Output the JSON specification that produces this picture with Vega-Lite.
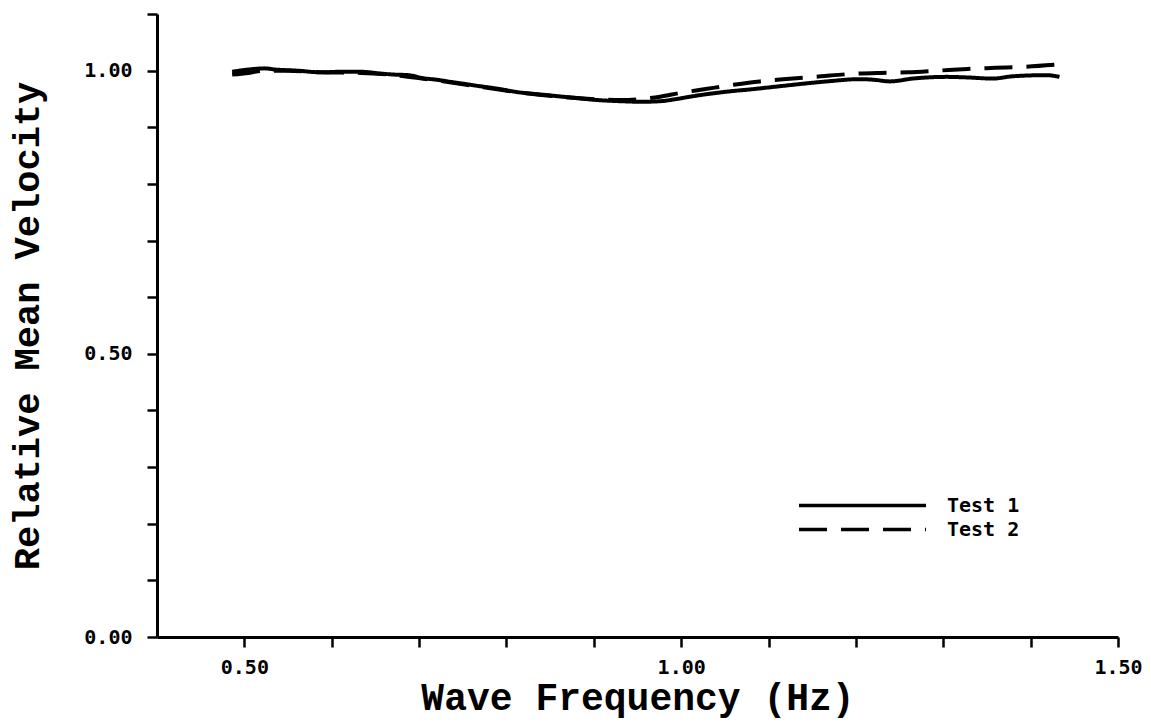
{
  "$schema": "https://vega.github.io/schema/vega-lite/v6.json",
  "width": 961,
  "height": 623,
  "autosize": {"type": "none"},
  "padding": {"left": 157, "top": 14, "right": 33, "bottom": 87},
  "background": "white",
  "config": {
    "view": {"stroke": null},
    "axis": {
      "domainColor": "black",
      "domainWidth": 3,
      "tickColor": "black",
      "tickWidth": 2.5,
      "tickSize": 10,
      "grid": false,
      "labelFont": "DejaVu Sans Mono",
      "labelFontWeight": "bold",
      "labelFontSize": 20,
      "labelColor": "black",
      "titleFont": "Liberation Mono",
      "titleFontWeight": "bold",
      "titleFontSize": 38,
      "titleColor": "black"
    }
  },
  "data": {
    "values": [
      {"freq": 0.486, "velocity": 0.998, "test": "Test 1"},
      {"freq": 0.505, "velocity": 1.002, "test": "Test 1"},
      {"freq": 0.523, "velocity": 1.004, "test": "Test 1"},
      {"freq": 0.535, "velocity": 1.002, "test": "Test 1"},
      {"freq": 0.56, "velocity": 1.0, "test": "Test 1"},
      {"freq": 0.588, "velocity": 0.997, "test": "Test 1"},
      {"freq": 0.61, "velocity": 0.998, "test": "Test 1"},
      {"freq": 0.634, "velocity": 0.998, "test": "Test 1"},
      {"freq": 0.655, "velocity": 0.995, "test": "Test 1"},
      {"freq": 0.672, "velocity": 0.993, "test": "Test 1"},
      {"freq": 0.688, "velocity": 0.992, "test": "Test 1"},
      {"freq": 0.703, "velocity": 0.987, "test": "Test 1"},
      {"freq": 0.72, "velocity": 0.984, "test": "Test 1"},
      {"freq": 0.737, "velocity": 0.98, "test": "Test 1"},
      {"freq": 0.763, "velocity": 0.974, "test": "Test 1"},
      {"freq": 0.79, "velocity": 0.968, "test": "Test 1"},
      {"freq": 0.813, "velocity": 0.962, "test": "Test 1"},
      {"freq": 0.845, "velocity": 0.957, "test": "Test 1"},
      {"freq": 0.877, "velocity": 0.952, "test": "Test 1"},
      {"freq": 0.905, "velocity": 0.948, "test": "Test 1"},
      {"freq": 0.931, "velocity": 0.946, "test": "Test 1"},
      {"freq": 0.955, "velocity": 0.945, "test": "Test 1"},
      {"freq": 0.976, "velocity": 0.946, "test": "Test 1"},
      {"freq": 0.995, "velocity": 0.95, "test": "Test 1"},
      {"freq": 1.014, "velocity": 0.955, "test": "Test 1"},
      {"freq": 1.053, "velocity": 0.963, "test": "Test 1"},
      {"freq": 1.08, "velocity": 0.967, "test": "Test 1"},
      {"freq": 1.11, "velocity": 0.972, "test": "Test 1"},
      {"freq": 1.14, "velocity": 0.977, "test": "Test 1"},
      {"freq": 1.167, "velocity": 0.981, "test": "Test 1"},
      {"freq": 1.205, "velocity": 0.985, "test": "Test 1"},
      {"freq": 1.22, "velocity": 0.984, "test": "Test 1"},
      {"freq": 1.239, "velocity": 0.981, "test": "Test 1"},
      {"freq": 1.265, "velocity": 0.986, "test": "Test 1"},
      {"freq": 1.304, "velocity": 0.989, "test": "Test 1"},
      {"freq": 1.327, "velocity": 0.988, "test": "Test 1"},
      {"freq": 1.357, "velocity": 0.986, "test": "Test 1"},
      {"freq": 1.379, "velocity": 0.99, "test": "Test 1"},
      {"freq": 1.418, "velocity": 0.992, "test": "Test 1"},
      {"freq": 1.433, "velocity": 0.989, "test": "Test 1"},
      {"freq": 0.486, "velocity": 0.993, "test": "Test 2"},
      {"freq": 0.505, "velocity": 0.996, "test": "Test 2"},
      {"freq": 0.523, "velocity": 1.0, "test": "Test 2"},
      {"freq": 0.55, "velocity": 1.0, "test": "Test 2"},
      {"freq": 0.588, "velocity": 0.997, "test": "Test 2"},
      {"freq": 0.634, "velocity": 0.996, "test": "Test 2"},
      {"freq": 0.672, "velocity": 0.992, "test": "Test 2"},
      {"freq": 0.703, "velocity": 0.986, "test": "Test 2"},
      {"freq": 0.737, "velocity": 0.979, "test": "Test 2"},
      {"freq": 0.763, "velocity": 0.973, "test": "Test 2"},
      {"freq": 0.813, "velocity": 0.962, "test": "Test 2"},
      {"freq": 0.877, "velocity": 0.952, "test": "Test 2"},
      {"freq": 0.931, "velocity": 0.948, "test": "Test 2"},
      {"freq": 0.955, "velocity": 0.95, "test": "Test 2"},
      {"freq": 0.976, "velocity": 0.954, "test": "Test 2"},
      {"freq": 1.0, "velocity": 0.961, "test": "Test 2"},
      {"freq": 1.026, "velocity": 0.967, "test": "Test 2"},
      {"freq": 1.06, "velocity": 0.975, "test": "Test 2"},
      {"freq": 1.09, "velocity": 0.981, "test": "Test 2"},
      {"freq": 1.128, "velocity": 0.986, "test": "Test 2"},
      {"freq": 1.16, "velocity": 0.99, "test": "Test 2"},
      {"freq": 1.193, "velocity": 0.994, "test": "Test 2"},
      {"freq": 1.228, "velocity": 0.996, "test": "Test 2"},
      {"freq": 1.26, "velocity": 0.997, "test": "Test 2"},
      {"freq": 1.294, "velocity": 1.0, "test": "Test 2"},
      {"freq": 1.328, "velocity": 1.003, "test": "Test 2"},
      {"freq": 1.36, "velocity": 1.005, "test": "Test 2"},
      {"freq": 1.395, "velocity": 1.007, "test": "Test 2"},
      {"freq": 1.433, "velocity": 1.011, "test": "Test 2"}
    ]
  },
  "mark": {"type": "line", "strokeWidth": 4, "color": "black", "interpolate": "monotone"},
  "encoding": {
    "x": {
      "field": "freq",
      "type": "quantitative",
      "scale": {"domain": [0.4, 1.5], "nice": false, "zero": false},
      "axis": {
        "title": "Wave Frequency (Hz)",
        "values": [0.5, 0.6, 0.7, 0.8, 0.9, 1.0, 1.1, 1.2, 1.3, 1.4, 1.5],
        "labelExpr": "abs(round(datum.value*2) - datum.value*2) < 0.001 ? format(datum.value, '.2f') : ''",
        "labelPadding": 10,
        "titlePadding": 2,
        "labelFlush": false
      }
    },
    "y": {
      "field": "velocity",
      "type": "quantitative",
      "scale": {"domain": [0, 1.1], "nice": false},
      "axis": {
        "title": "Relative Mean Velocity",
        "titleFontSize": 37,
        "values": [0, 0.1, 0.2, 0.3, 0.4, 0.5, 0.6, 0.7, 0.8, 0.9, 1.0, 1.1],
        "labelExpr": "abs(round(datum.value*2) - datum.value*2) < 0.001 ? format(datum.value, '.2f') : ''",
        "labelPadding": 15,
        "titlePadding": 37,
        "labelFlush": false
      }
    },
    "strokeDash": {
      "field": "test",
      "type": "nominal",
      "scale": {"domain": ["Test 1", "Test 2"], "range": [[1, 0], [28, 14]]},
      "legend": {
        "orient": "none",
        "legendX": 693,
        "legendY": 479,
        "title": null,
        "padding": 0,
        "symbolType": "M-6,0H6",
        "symbolSize": 448,
        "symbolStrokeWidth": 3.5,
        "symbolStrokeColor": "black",
        "symbolFillColor": "transparent",
        "labelFont": "DejaVu Sans Mono",
        "labelFontWeight": "bold",
        "labelFontSize": 20,
        "labelColor": "black",
        "labelOffset": 72,
        "rowPadding": 1
      }
    }
  }
}
